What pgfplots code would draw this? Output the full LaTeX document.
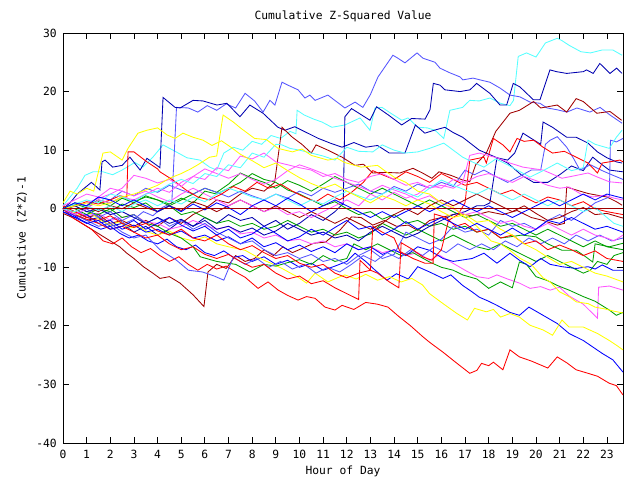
\documentclass[border=0pt]{standalone}
\usepackage{fontspec}
\setmainfont{DejaVu Sans Mono}
\usepackage{pgfplots}
\pgfplotsset{compat=1.18}
\definecolor{cred}{HTML}{FF0000}
\definecolor{cgreen}{HTML}{00A000}
\definecolor{cblue}{HTML}{0000FF}
\definecolor{cdblue}{HTML}{0000B0}
\definecolor{clblue}{HTML}{5555FF}
\definecolor{cmag}{HTML}{FF55FF}
\definecolor{ccyan}{HTML}{55FFFF}
\definecolor{cyel}{HTML}{FFFF00}
\definecolor{cdred}{HTML}{A00000}
\begin{document}
\begin{tikzpicture}
\useasboundingbox (-63pt,-37pt) rectangle (577pt,443pt);
\begin{axis}[
  at={(0,0)}, anchor=south west,
  scale only axis, width=560pt, height=410pt,
  xmin=0, xmax=23.68, ymin=-40, ymax=30,
  xtick={0,1,...,23}, ytick={-40,-30,...,30},
  tick align=inside, major tick length=6pt,
  axis line style={line width=0.8pt},
  every tick/.style={black, line width=0.8pt},
  /pgf/number format/assume math mode=true,
  font=\fontsize{11.3}{13}\selectfont,
  xticklabel style={inner sep=0pt, yshift=-7pt},
  yticklabel style={inner sep=0pt, xshift=-6pt},
  title={Cumulative Z-Squared Value},
  title style={at={(axis description cs:0.5,1.027)}, anchor=center, inner sep=0pt},
  xlabel={Hour of Day},
  xlabel style={at={(axis description cs:0.5,-0.07)}, anchor=center, inner sep=0pt},
  ylabel={Cumulative (Z*Z)-1},
  ylabel style={at={(axis description cs:-0.0732,0.5)}, anchor=center, inner sep=0pt},
  every axis plot/.append style={line width=0.85pt, mark=none},
]
% cyan top
\addplot[ccyan] coordinates {(0,0.5)(0.3,2)(0.6,3.5)(0.93,5.7)(1.27,6.3)(1.69,6.3)(2.1,5.8)(2.5,6.6)(3.04,7.9)(3.38,7.1)(3.8,8.8)(4.23,10.9)(4.65,10.0)(5.24,8.7)(5.79,8.3)(6.2,7.1)(6.5,6.6)(6.8,9.5)(7.2,10.5)(7.6,10)(8,11.5)(8.4,11)(8.8,12.5)(9.2,12)(9.6,13.2)(9.85,12.8)(9.9,16.8)(10.2,16.0)(10.6,15.3)(10.95,14.8)(11.37,13.9)(11.92,14.3)(12.56,15.5)(12.98,13.4)(13.19,17.2)(13.49,17.3)(13.9,16.2)(14.33,15.1)(14.59,15.5)(15.0,13.9)(15.4,13.8)(15.73,13.4)(16.1,12.0)(16.36,16.8)(16.9,17.3)(17.2,18.5)(17.6,18.4)(18.05,18.9)(18.5,18.0)(18.9,17.6)(19.05,18.5)(19.25,26.0)(19.6,26.6)(20.0,25.9)(20.4,28.3)(20.9,29.1)(21.1,28.7)(21.4,27.9)(21.9,26.8)(22.3,26.6)(22.8,27.1)(23.25,27.1)(23.64,26.2)};
% light blue top
\addplot[clblue] coordinates {(0,0)(0.3,-1)(0.7,-0.5)(1,-1.5)(1.4,-1)(1.8,-2.2)(2.2,-1.5)(2.6,-2.5)(3,-1.8)(3.4,-0.5)(3.8,-1.2)(4.2,0.2)(4.6,1.0)(4.8,17.3)(5.3,17.2)(5.7,16.5)(6.1,17.6)(6.5,16.8)(6.9,17.9)(7.3,17.2)(7.7,19.7)(8.1,18.4)(8.46,16.5)(8.75,18.5)(8.96,17.7)(9.26,21.6)(9.51,21.1)(9.94,20.3)(10.23,18.9)(10.44,19.4)(10.66,18.5)(11.2,19.4)(11.92,17.2)(12.35,18.2)(12.68,17.3)(13.0,19.5)(13.32,22.5)(13.95,26.2)(14.16,25.7)(14.46,24.9)(14.97,26.6)(15.22,25.7)(15.73,25.0)(15.94,24.0)(16.36,23.2)(16.79,22.5)(16.91,22.0)(17.34,22.3)(17.63,22.0)(18.05,21.6)(18.48,20.6)(18.9,19.4)(19.32,19.1)(19.75,18.2)(20.17,18.0)(20.47,17.2)(20.89,16.9)(21.31,16.5)(21.73,17.2)(22.28,16.5)(22.71,17.3)(23.13,16.0)(23.64,14.6)};
% dark blue (jump at 4)
\addplot[cdblue] coordinates {(0,0)(0.3,1)(0.6,2.5)(0.9,3.5)(1.2,4.5)(1.4,3.8)(1.56,3.2)(1.65,8.0)(1.78,8.3)(2.1,7.1)(2.5,7.4)(2.83,8.8)(3.26,6.6)(3.55,8.6)(3.9,7.6)(4.1,7.0)(4.23,19.0)(4.74,17.3)(4.95,17.2)(5.5,18.5)(5.92,18.4)(6.51,17.7)(6.93,18.0)(7.48,15.7)(7.9,17.7)(8.46,16.3)(9.09,13.9)(9.39,13.4)(9.8,14)(10.3,13)(10.8,12)(11.3,11.2)(11.8,10.5)(12.3,11.3)(12.8,10.5)(13.3,10.8)(13.8,9.5)(14.46,9.5)(14.9,14.3)(15.3,12.9)(15.7,13.4)(16.15,13.9)(16.5,13)(16.9,12.2)(17.6,10.0)(18.35,8.7)(18.8,7.8)(19.4,5.7)(19.9,4.5)(20.5,4.5)(21,5.8)(21.5,7.3)(22,6.5)(22.4,8.8)(22.8,7.5)(23.1,6.6)(23.68,6.3)};
% dark blue (jump at 12)
\addplot[cdblue] coordinates {(0,0)(0.5,-1)(1,-2)(1.5,-1.5)(2,-3)(2.5,-2.5)(3,-4)(3.5,-3)(4,-4.5)(4.5,-3.5)(5,-2)(5.5,-3)(6,-1.5)(6.5,-2.5)(7,-1)(7.5,-2)(8,-1.5)(8.5,-3)(9,-2)(9.5,-3.5)(10,-2.5)(10.5,-1)(11,-2)(11.5,-0.5)(11.85,0.9)(11.92,15.7)(12.2,17.1)(12.98,15.1)(13.26,17.4)(13.76,16.0)(14.32,14.3)(14.74,15.4)(15.31,15.3)(15.52,16.9)(15.66,21.4)(15.94,21.1)(16.15,20.3)(16.79,20.0)(17.21,20.3)(17.49,21.4)(18.05,19.7)(18.48,17.7)(18.76,17.7)(19.04,21.4)(19.32,20.8)(19.89,18.6)(20.17,18.6)(20.59,23.7)(20.87,23.4)(21.3,23.1)(22.0,23.4)(22.14,23.7)(22.42,23.1)(22.7,24.8)(23.13,23.1)(23.41,24.0)(23.64,23.1)};
% dark red rising
\addplot[cdred] coordinates {(0,0)(0.5,-0.5)(1,-1.5)(1.5,-1)(2,-2.5)(2.5,-2)(3,-3)(3.5,-2)(4,-3)(4.5,-1.5)(5,-2.5)(5.5,-1)(6,0)(6.5,1.5)(7,1)(7.5,2.5)(8,3.5)(8.5,3)(8.95,4.5)(9.26,13.9)(9.7,12.2)(10.1,11)(10.5,9.5)(10.7,10.9)(11.2,10)(11.8,8.8)(12.35,7.4)(12.7,7.6)(13.1,6.1)(13.6,6.2)(14.25,6.1)(14.8,6.9)(15.2,6.1)(15.6,5.2)(15.9,6.3)(16.4,5.7)(16.9,4.9)(17.2,4.6)(17.45,7.5)(17.9,9.5)(18.3,13.2)(18.9,16.3)(19.3,16.8)(19.9,18.3)(20.2,17.2)(20.9,17.7)(21.3,16.5)(21.7,18.8)(22.0,18.3)(22.57,16.3)(23.13,16.6)(23.62,15.1)};
% dark red deep early
\addplot[cdred] coordinates {(0,-0.8)(0.4,-1.5)(0.8,-2.5)(1.2,-3.5)(1.6,-4.5)(2,-5.5)(2.4,-6.5)(2.7,-7.6)(3.0,-8.5)(3.4,-9.9)(3.8,-11)(4.1,-11.9)(4.5,-11.6)(4.95,-12.7)(5.5,-14.7)(5.96,-16.7)(6.13,-10.8)(6.5,-9.5)(6.9,-10.2)(7.3,-8)(7.7,-9)(8.1,-8.5)(8.5,-7)(8.9,-8)(9.3,-6.5)(9.7,-7.5)(10.1,-6.8)(10.6,-5.9)(11.1,-5.7)(11.7,-3.7)(12.2,-1.4)(12.6,-1.5)(13.1,-2.8)(13.6,-2)(14.1,-3)(14.6,-2.8)(15,-3.7)(15.5,-2)(16,-1.5)(16.7,-0.8)(17.3,-1.2)(18,-0.5)(18.6,-1)(19.2,-0.3)(19.8,-1.5)(20.3,-2)(20.9,-2.8)(21.2,-2.5)(21.3,3.7)(21.7,3.2)(22.2,2.6)(22.6,2.3)(23.0,2.0)(23.4,1.2)(23.64,0.6)};
% red lowest
\addplot[cred] coordinates {(0,0)(0.4,-1.5)(0.8,-2.5)(1.2,-3.5)(1.7,-5.5)(2.1,-6)(2.5,-5)(2.9,-6.5)(3.3,-7.5)(3.7,-6.8)(4.1,-8)(4.5,-9)(4.9,-8.2)(5.3,-9.5)(5.7,-10.5)(6.1,-9.5)(6.5,-10.3)(6.9,-9.8)(7.3,-10.8)(7.7,-11.7)(8.25,-13.6)(8.67,-12.5)(9.1,-13.9)(9.5,-14.8)(9.94,-15.6)(10.3,-15)(10.66,-15.3)(11.08,-16.8)(11.5,-17.3)(11.8,-16.5)(12.3,-17.2)(12.8,-16)(13.3,-16.3)(13.74,-16.8)(14.2,-18.4)(14.7,-20)(15.2,-21.8)(15.5,-22.8)(16.07,-24.5)(16.66,-26.4)(17.2,-28.1)(17.5,-27.6)(17.7,-26.4)(18.0,-26.8)(18.2,-26.2)(18.6,-27.5)(18.9,-24.1)(19.3,-25.3)(19.8,-26)(20.5,-27.2)(20.9,-25.3)(21.3,-26.3)(21.7,-27.5)(22.2,-28.1)(22.6,-28.6)(23.1,-29.8)(23.4,-30.2)(23.68,-31.8)};
% blue low
\addplot[cblue] coordinates {(0,0)(0.4,-1)(0.8,-2)(1.2,-2.8)(1.6,-3.5)(2,-3)(2.4,-4.2)(2.8,-5)(3.2,-4.5)(3.6,-5.5)(4,-6)(4.4,-5.2)(4.8,-6.5)(5.2,-7)(5.6,-6.2)(6,-7.5)(6.4,-8)(6.8,-7.2)(7.2,-8.3)(7.6,-8)(8,-9)(8.5,-8.2)(9,-9.5)(9.5,-8.8)(10,-10)(10.5,-9.3)(11,-10.5)(11.5,-9.8)(12,-9)(12.35,-7.6)(12.8,-9)(13.2,-10.5)(13.7,-12.2)(14.1,-11.1)(14.6,-12)(15,-9.9)(15.5,-10.8)(16.07,-11.9)(16.4,-11.3)(16.9,-13.1)(17.3,-14.2)(17.6,-15.1)(18,-15.8)(18.35,-16.5)(18.9,-17.7)(19.3,-18.2)(19.7,-16.8)(20.3,-18.2)(20.9,-19.6)(21.4,-21.3)(22.0,-22.5)(22.4,-23.6)(22.8,-24.7)(23.25,-25.8)(23.68,-27.9)};
% yellow low
\addplot[cyel] coordinates {(0,0.5)(0.4,-0.5)(0.8,-1.2)(1.2,-0.8)(1.6,-2)(2,-2.8)(2.4,-2.2)(2.8,-3.3)(3.2,-3)(3.6,-4)(4,-4.5)(4.5,-3.8)(5,-5)(5.5,-5.5)(6,-4.8)(6.5,-6)(7,-6.5)(7.7,-7.1)(8.1,-8)(8.5,-8.8)(8.9,-9.5)(9.26,-10.2)(9.94,-11.7)(10.3,-12.7)(10.66,-11.0)(11.2,-12.5)(11.6,-11.8)(11.92,-11.3)(12.4,-12)(12.8,-11.2)(13.3,-12.2)(13.8,-11.6)(14.3,-12.5)(14.75,-11.9)(15.2,-13)(15.5,-14.5)(16.07,-16.2)(16.66,-17.9)(17.1,-19.0)(17.4,-17.0)(17.9,-17.6)(18.2,-17.2)(18.5,-18.5)(18.9,-17.9)(19.3,-18.5)(19.75,-19.9)(20.3,-20.7)(20.7,-21.6)(21.1,-19.0)(21.4,-20.2)(22.0,-20.2)(22.6,-21.3)(23.1,-22.5)(23.4,-23.3)(23.68,-24.1)};
% magenta low
\addplot[cmag] coordinates {(0,0)(0.5,-0.5)(1,-1.2)(1.5,-0.8)(2,-2)(2.5,-1.5)(3,-1)(3.5,-2.3)(4,-2.5)(4.5,-3.5)(5,-3)(5.5,-2)(6,-2.8)(6.5,-3.5)(7,-3)(7.5,-4.3)(8,-4)(8.5,-5)(9,-4.5)(9.5,-5.5)(10,-5.2)(10.5,-6)(11,-5.5)(11.5,-6.5)(12,-6)(12.5,-7)(13,-6.5)(13.5,-7.5)(14,-7)(14.5,-8)(15,-7.5)(15.5,-8.8)(15.9,-7.9)(16.4,-9.1)(17,-10.5)(17.5,-11.6)(18.0,-11.9)(18.35,-11.3)(18.8,-12)(19.3,-12.7)(19.75,-13.6)(20.2,-13.3)(20.6,-13.9)(21.0,-13.4)(21.4,-14.9)(22.0,-16.3)(22.6,-18.7)(22.65,-13.4)(23.1,-13.2)(23.68,-13.9)};
% green low
\addplot[cgreen] coordinates {(0,0)(0.5,0.5)(1,-0.5)(1.5,-1)(2,0)(2.5,-1.5)(3,-1)(3.5,-2.5)(4,-3)(4.5,-4.2)(5,-5)(5.5,-6.5)(5.8,-8.2)(6.5,-9)(7.3,-9.5)(7.9,-10.8)(8.5,-9.5)(9,-9.8)(9.5,-9.2)(10,-8.7)(10.5,-9.5)(11,-8)(11.5,-9)(12,-8.5)(12.3,-6)(12.8,-7)(13.3,-6)(13.8,-7)(14.3,-8)(14.8,-7.5)(15.5,-9.1)(16,-10)(16.5,-10.5)(16.9,-11.3)(17.5,-12)(18.0,-13.6)(18.5,-12.5)(19.0,-13.5)(19.3,-9.1)(19.6,-9.5)(20.0,-11.6)(20.5,-12.3)(20.9,-13.1)(21.4,-13.9)(22.0,-15.0)(22.5,-15.8)(23.1,-17.3)(23.4,-18.2)(23.68,-17.7)};
% green 2
\addplot[cgreen] coordinates {(0,0)(0.5,1)(1,0.5)(1.5,1.5)(2,1)(2.5,2)(3,1.2)(3.5,2)(4,1.5)(4.5,0.8)(5,1.8)(5.5,1)(6,3)(6.5,2.5)(7,3.5)(7.5,4.5)(8,6)(8.5,5)(9,4.5)(9.5,3.2)(10,2.5)(10.5,1.5)(11,0.5)(11.5,1.2)(12,0)(12.5,-1)(13,-0.5)(13.5,-1.8)(14,-1)(14.5,-2.5)(15,-2)(15.5,-3)(16,-2.5)(16.5,-3.5)(17,-3)(17.5,-4)(18,-3.5)(18.5,-5)(18.9,-4.8)(19.4,-4.5)(20,-4.8)(20.5,-6)(21.1,-7.1)(21.7,-7.1)(22.1,-8.2)(22.4,-9.1)(22.5,-6)(23.1,-6.5)(23.68,-5.9)};
% green 3
\addplot[cgreen] coordinates {(0,0.5)(0.5,0)(1,-1)(1.5,0)(2,-0.5)(2.5,0.8)(3,0.2)(3.5,1)(4,-0.5)(4.5,0.5)(5,-1)(5.5,-0.5)(6,-1.5)(6.5,-2.5)(7,-2)(7.5,-3)(8,-2.5)(8.5,-3.5)(9,-3)(9.5,-2)(10,-3)(10.5,-4)(11,-3.5)(11.5,-4.5)(12,-4)(12.5,-5)(13,-4.3)(13.5,-2.5)(14,-3.5)(14.5,-4.5)(15,-3.5)(15.5,-4.5)(16,-5.5)(16.5,-4.5)(17,-5.5)(17.5,-6.5)(18,-7)(18.5,-6)(19,-7)(19.5,-8)(20,-9)(20.5,-8)(21,-9)(21.5,-10)(22,-11)(22.3,-10.5)(22.6,-9)(23,-9.5)(23.3,-8)(23.68,-7.5)};
% green 4
\addplot[cgreen] coordinates {(0,0)(0.5,0.8)(1,0.2)(1.5,1.2)(2,0.5)(2.5,1.8)(3,1)(3.5,2.2)(4,1.5)(4.5,0.5)(5,1.5)(5.5,2.5)(6,3.5)(6.5,2.8)(7,4.2)(7.5,6.1)(8,5.2)(8.5,4.5)(9,3.5)(9.5,4.8)(10,4)(10.5,3)(11,4.2)(11.5,5.5)(12,4.5)(12.5,3.5)(13,2.5)(13.5,3.5)(14,2.5)(14.5,1.5)(15,0.5)(15.5,1.5)(16,0.5)(16.5,-0.5)(17,-1.5)(17.5,-1)(18,-2)(18.5,-3)(19,-2.5)(19.5,-3.5)(20,-4.5)(20.5,-3.5)(21,-4.5)(21.5,-5.5)(22,-6.5)(22.5,-5.5)(23,-6.5)(23.68,-7)};
% blue mid
\addplot[cblue] coordinates {(0,-0.5)(0.5,-1.5)(1,-1)(1.5,-2.5)(2,-2)(2.5,-3.5)(3,-2.8)(3.5,-4)(4,-3.5)(4.5,-4.5)(5,-3.8)(5.5,-5)(6,-4.5)(6.5,-5.5)(7,-4.8)(7.5,-6)(8,-5)(8.5,-6.5)(9,-5.8)(9.5,-7)(10,-6.2)(10.5,-7.3)(11,-6.5)(11.5,-7.5)(12,-6)(12.5,-7)(13,-6.5)(13.5,-7.8)(14,-7)(14.5,-8)(15,-6.5)(15.5,-7.1)(16.07,-8.5)(16.5,-9)(17.3,-8.5)(17.8,-7.6)(18.35,-9.3)(18.9,-7.6)(19.3,-8.8)(19.75,-9.9)(20.2,-8.5)(20.6,-9.5)(21.1,-9.9)(21.7,-10.2)(22.2,-9.9)(22.5,-10.3)(22.8,-9.6)(23.25,-10.5)(23.68,-10.5)};
% light blue jump at end
\addplot[clblue] coordinates {(0,0)(0.5,-1)(1,0)(1.5,-1.5)(2,-0.5)(2.5,-2)(3,-1)(3.5,-2.5)(4,-1.5)(4.5,-3)(5,-2)(5.5,-3.5)(6,-2.5)(6.5,-4)(7,-5)(7.5,-6)(8,-5.5)(8.5,-7)(9,-8)(9.5,-7.5)(10,-8.5)(10.5,-7.8)(11,-9)(11.5,-8.5)(12,-9.5)(12.5,-8)(13,-7)(13.5,-8.5)(14,-7.8)(14.5,-4)(15,-5)(15.5,-6)(16,-5.2)(16.5,-3)(17,-4)(17.5,-3.5)(18,-4.5)(18.5,-2)(19,-3)(19.5,-2.5)(20,-3.5)(20.5,-2)(21,-1)(21.5,-2)(22,-0.5)(22.5,1)(23.1,2)(23.15,11.7)(23.4,11.4)(23.68,12)};
% light blue mid
\addplot[clblue] coordinates {(0,0)(0.5,1)(1,0.5)(1.5,2)(2,1.5)(2.5,3)(3,2.2)(3.5,3.5)(4,2.8)(4.5,4)(5,3.2)(5.5,2.5)(6,3.5)(6.5,2.8)(7,2)(7.5,3)(8,2.2)(8.5,1.5)(9,2.5)(9.5,1.8)(10,3)(10.5,2.2)(11,3.5)(11.5,2.8)(12,3.5)(12.5,4.2)(13,3)(13.5,2.5)(14,3.8)(14.5,3)(15,4.2)(15.5,3.5)(16,4.5)(16.5,3.8)(17,6.6)(17.4,5.8)(17.8,6.6)(18.3,5.5)(18.8,4.5)(19.3,5.5)(19.8,6.6)(20.2,6.6)(20.4,11)(20.6,11.7)(20.9,12.3)(21.3,10.5)(21.6,8.5)(21.86,6.6)(22.3,7.5)(22.8,6.5)(23.2,5.8)(23.68,5.0)};
% light blue lower
\addplot[clblue] coordinates {(0,0)(0.5,-1)(1,-2)(1.5,-3)(2,-2.5)(2.5,-4)(3,-5)(3.5,-4.5)(4.1,-7)(4.8,-8.8)(5.3,-10.5)(5.9,-10.8)(6.4,-11.5)(6.8,-12.2)(7.2,-8.3)(7.7,-9.5)(8.2,-8.5)(8.7,-10)(9.2,-9)(9.7,-10.3)(10.2,-9.5)(10.7,-11)(11.2,-10)(11.7,-10.8)(12.2,-9.5)(12.7,-8)(13.2,-9)(13.7,-7.5)(14.2,-8.5)(14.7,-7)(15.2,-8)(15.7,-6.5)(16.2,-7.5)(16.7,-6)(17.2,-7)(17.7,-6)(18.2,-7)(18.7,-5.5)(19.2,-6.5)(19.7,-5)(20.2,-6)(20.7,-5)(21.2,-6)(21.7,-4.5)(22.2,-5.5)(22.7,-4.5)(23.2,-5.5)(23.68,-5)};
% dark blue jump at 18
\addplot[cdblue] coordinates {(0,0)(0.5,0.5)(1,-0.5)(1.5,0)(2,-1)(2.5,-0.5)(3,-1.5)(3.5,-2.5)(4,-1.5)(4.5,-2.5)(5,-1.8)(5.5,-3)(6,-2)(6.5,-3.5)(7,-3)(7.5,-4)(8,-3.3)(8.5,-4.5)(9,-3.8)(9.5,-2.5)(10,-3.5)(10.5,-4.5)(11,-4)(11.5,-5)(12,-4.5)(12.5,-5.5)(13,-4)(13.5,-3)(14,-4)(14.5,-5)(15,-4.2)(15.5,-3)(16,-2)(16.5,-1)(17,-0.5)(17.5,0.5)(17.8,0.5)(18.05,1.0)(18.35,8.7)(18.8,8.3)(19.1,9.5)(19.45,12.9)(19.8,12)(20.2,11)(20.3,14.8)(20.7,13.9)(21.3,12.2)(21.7,12.2)(22.2,11.2)(22.6,9.7)(23.0,8.7)(23.4,8.0)(23.64,7.8)};
% red ending 8
\addplot[cred] coordinates {(0,0)(0.5,-1)(1,-1.8)(1.5,-2.5)(2,-3.5)(2.5,-3)(3,-4)(3.5,-5)(4,-4.5)(4.5,-6)(5,-7)(5.5,-6.5)(6,-7.8)(6.5,-8.5)(7,-7.8)(7.5,-9)(8,-10)(8.5,-9.5)(9,-11)(9.5,-12)(10,-11.5)(10.5,-12.8)(11,-12.3)(11.5,-13.5)(12,-14.5)(12.5,-15.5)(12.56,-8.8)(13,-10.5)(13.3,-11)(13.8,-12.5)(14.2,-13.5)(14.3,-5.8)(14.8,-7)(15.2,-8.2)(15.6,-8.8)(16,-7)(16.3,-2)(16.7,-1)(17.0,1)(17.2,8.3)(17.8,8.8)(17.9,7.8)(18.2,12.0)(18.6,10.9)(18.9,9.7)(19.2,12.0)(19.5,11.5)(19.9,11.7)(20.3,10.5)(20.7,9.5)(21.2,9.8)(21.7,8.8)(22.2,7.8)(22.6,6.1)(22.8,7.8)(23.1,8.0)(23.55,8.3)(23.68,8)};
% red lower middle
\addplot[cred] coordinates {(0,0.5)(0.5,-0.5)(1,-1.5)(1.5,-2)(2,-1.2)(2.5,-2.5)(3,-3.2)(3.5,-2.5)(4,-3.8)(4.5,-4.5)(5,-3.5)(5.5,-5)(6,-5.5)(6.5,-4.5)(7,-6)(7.5,-7)(8,-6.3)(8.5,-7.5)(9,-8.5)(9.5,-8)(10,-9.3)(10.5,-10)(11,-9.5)(11.5,-11)(12,-11.8)(12.5,-11)(13,-10.5)(13.1,-3)(13.5,-4)(14,-5)(14.25,-7.3)(14.8,-8.5)(15.3,-9.3)(15.65,-9.3)(15.7,-0.9)(16.2,-1.5)(16.6,-3)(17,-2.5)(17.5,-4)(18,-3.5)(18.5,-5)(19,-4.5)(19.5,-6)(20,-5.5)(20.5,-7)(21,-6.2)(21.5,-7)(22,-8)(22.5,-7.2)(23,-8.5)(23.68,-9)};
% red upper early
\addplot[cred] coordinates {(0,0)(0.5,0.5)(1,1.2)(1.5,0.8)(2,1.5)(2.4,2.2)(2.7,2)(2.75,9.7)(3.0,9.7)(3.55,8.0)(4.0,6.8)(4.1,6.3)(4.65,4.9)(5.2,3.2)(5.7,2)(6.2,1.5)(6.7,2.5)(7.2,3.8)(7.7,3)(8.2,4.5)(8.7,3.5)(9.2,4.2)(9.7,3)(10.2,2)(10.7,1.2)(11.2,2.5)(11.7,1.5)(12.2,2.8)(12.7,4.5)(13.1,6.5)(13.5,5.8)(14,5)(14.5,6.3)(15,5.5)(15.5,4.5)(16,6)(16.5,5)(17,4)(17.5,4.5)(18,3.5)(18.5,2.5)(19,3.2)(19.5,2)(20,1)(20.5,2)(21,1.5)(21.5,0.5)(22,1.2)(22.5,0)(23,-0.5)(23.68,-1)};
% dark red near zero
\addplot[cdred] coordinates {(0,0)(0.5,-0.5)(1,0.3)(1.5,-0.5)(2,0.5)(2.5,0)(3,1)(3.5,0.2)(4,-0.5)(4.5,0.5)(5,-0.3)(5.5,1.2)(6,0.5)(6.5,-0.5)(7,0.5)(7.5,1.5)(8,0.5)(8.5,-0.5)(9,0.5)(9.5,-0.5)(10,-1.5)(10.5,-0.5)(11,-1.5)(11.5,-2.5)(12,-1.5)(12.5,-2.5)(13,-3.5)(13.5,-2.5)(14,-1)(14.5,0)(15,-1)(15.5,0.5)(16,1.5)(16.5,0.5)(17,1.5)(17.5,2.5)(18,1.5)(18.5,0.5)(19,-0.5)(19.5,0.5)(20,-0.8)(20.5,-2)(21,-1.5)(21.5,-0.5)(22,0.2)(22.5,-1)(23,-0.8)(23.68,-1.6)};
% magenta 1
\addplot[cmag] coordinates {(0,0)(1,1)(2,2.5)(2.5,3.5)(3,5.7)(3.5,5.2)(4,4.4)(4.5,5)(5,3.8)(5.5,5.5)(6,5)(6.5,7)(7,6.5)(7.5,9)(8,8.5)(8.5,9.5)(9,8)(9.5,7.5)(10,7)(10.5,6.6)(11,5.5)(11.5,6)(12,5)(12.5,4.5)(13,5.5)(13.5,6)(14,5)(14.5,4)(15,4.5)(15.5,3.5)(16,4)(16.5,3.5)(16.9,4.4)(17.2,9.1)(17.6,9.5)(18.35,8.7)(18.9,7.8)(19.45,7.1)(20.3,6.6)(21.1,5.2)(21.6,5.6)(22.2,6.1)(22.6,5.4)(23.1,4.6)(23.64,4.4)};
% magenta 2
\addplot[cmag] coordinates {(0,0)(0.5,-1)(1,0)(1.5,1.5)(2,1)(2.5,2)(3,1.5)(3.5,2.5)(4,3.5)(4.5,2.8)(5,4.5)(5.5,5.5)(6,6.8)(6.5,6)(7,5.2)(7.5,6)(8,5)(8.5,4.2)(9,5)(9.5,6.5)(10,7.5)(10.5,6.8)(11,6)(11.5,5.2)(12,4.5)(12.5,3.8)(13,3)(13.5,4)(14,3.2)(14.5,2.5)(15,1.5)(15.5,2.2)(16,1)(16.5,0)(17,-1)(17.5,-0.5)(18,-1.5)(18.5,-2.5)(19,-2)(19.5,-3)(20,-3.5)(20.5,-2.5)(21,-3.5)(21.5,-4.5)(22,-3.5)(22.5,-4.5)(23,-5)(23.3,-5.5)(23.68,-4.5)};
% magenta 3
\addplot[cmag] coordinates {(0,0.5)(0.5,1.5)(1,2.5)(1.5,2)(2,3.5)(2.5,3)(3,2.2)(3.5,3)(4,2)(4.5,1.2)(5,2.5)(5.5,3.5)(6,2.5)(6.5,1.5)(7,0.5)(7.5,1.5)(8,0.5)(8.5,-0.5)(9,0.2)(9.5,-1)(10,-0.5)(10.5,-1.5)(11,-0.5)(11.5,0.5)(12,1.5)(12.5,0.5)(13,2.5)(13.5,1.5)(14,2.8)(14.5,1.8)(15,2.5)(15.5,4)(16,3.5)(16.5,5)(17,4.5)(17.5,5.5)(18,6)(18.5,5.2)(19,4.5)(19.5,5.5)(20,4.8)(20.5,4)(21,3.5)(21.4,3.7)(21.9,2.5)(22.4,2)(22.9,2.3)(23.3,1.8)(23.68,1.5)};
% cyan 3
\addplot[ccyan] coordinates {(0,0)(0.5,0.8)(1,1.5)(1.5,1)(2,2.5)(2.5,2)(3,1.2)(3.5,2.5)(4,3)(4.5,4.2)(5,5)(5.5,4.3)(6,6)(6.5,5.5)(7,7.5)(7.5,7)(8,9.5)(8.5,8.8)(9,11)(9.26,10.9)(9.6,10.3)(10,10)(10.5,9.5)(11,9)(11.5,8.3)(12,10.5)(12.5,9.8)(13.1,9.7)(13.5,10.9)(14,10)(14.46,9.5)(15,9.7)(15.5,10.3)(16.1,11.2)(16.5,10)(16.9,8.8)(17.3,8)(17.8,7.1)(18.3,8.5)(18.8,7.5)(19.2,6.6)(19.75,5.4)(20.3,6.5)(20.9,7.8)(21.5,6.5)(22.0,7)(22.2,11.7)(22.5,11)(23.1,10.3)(23.4,12.2)(23.64,13.4)};
% cyan 4
\addplot[ccyan] coordinates {(0,0)(0.5,-0.5)(1,0.5)(1.5,-0.3)(2,0.5)(2.5,-0.5)(3,0.8)(3.5,1.5)(4,0.5)(4.5,1.5)(5,0.8)(5.5,2)(6,1.2)(6.5,2.5)(7,3.5)(7.5,2.8)(8,2)(8.5,1.5)(9,2.5)(9.5,1.5)(10,0.5)(10.5,1.5)(11,0.8)(11.5,2)(12,3)(12.5,2.2)(13,1.5)(13.5,2.5)(14,3.5)(14.5,2.8)(15,2)(15.5,3.5)(16,4.9)(16.5,4)(17,3.2)(17.5,2.5)(18,3.5)(18.5,2.5)(19,1.5)(19.5,2.5)(20,1.5)(20.5,0.5)(21,1.5)(21.5,0.5)(22,-0.5)(22.5,0.2)(23,-1.5)(23.3,-2.5)(23.68,-3)};
% yellow 2
\addplot[cyel] coordinates {(0,0)(0.5,0.5)(1,1)(1.5,0.5)(2,1)(2.5,2)(3,2.5)(3.5,3.2)(4,4)(4.5,5.2)(5,6)(5.4,6.8)(5.7,7.5)(6.2,8.8)(6.5,9)(6.77,16.0)(7.2,14.8)(7.5,13.8)(7.8,12.9)(8.1,12.0)(8.6,11.8)(9.1,10.3)(9.7,9.7)(10.1,10.2)(10.5,9.1)(11.2,8.3)(11.6,8.6)(11.9,7.9)(12.6,7.1)(13.3,7.4)(13.6,6.5)(14.0,5.4)(14.5,4.5)(15,3)(15.5,2.5)(16,1)(16.5,0.2)(17,-1.5)(17.5,-3)(18.1,-5.5)(18.5,-6)(18.9,-7.1)(19.3,-8.4)(19.8,-9.5)(20.3,-11.8)(20.6,-12.5)(21.0,-14.2)(21.4,-15)(21.7,-15.9)(22.2,-16.2)(22.5,-16.8)(22.9,-17.1)(23.3,-17.5)(23.68,-17.8)};
% yellow 1
\addplot[cyel] coordinates {(0,1)(0.3,3)(0.6,2.5)(1,3.5)(1.3,3)(1.69,9.5)(2,9.7)(2.5,8.3)(2.75,10.3)(3.17,12.9)(3.55,13.4)(4,13.8)(4.4,12.6)(4.74,12.0)(5.07,12.9)(5.5,12.2)(5.92,11.7)(6.3,10.8)(6.7,11.6)(7.1,10.5)(7.5,9.3)(8,8.2)(8.5,7)(9,7.8)(9.5,6.5)(10,5.3)(10.5,4.3)(11,3.5)(11.5,4.2)(12,3)(12.5,2)(13,1)(13.5,2.2)(14,1.5)(14.5,0.5)(15,1.5)(15.5,0.8)(16,-0.5)(16.5,-1.5)(17,-1)(17.5,-2.3)(18,-2)(18.5,-3.5)(19,-4.5)(19.5,-6)(20,-7)(20.5,-8.3)(21,-9.5)(21.5,-9)(22,-10)(22.5,-11)(23,-11.5)(23.68,-12.5)};
% blue 3
\addplot[cblue] coordinates {(0,-0.5)(0.5,-1.5)(1,-2.5)(1.5,-2)(2,-3.5)(2.5,-3)(3,-2)(3.5,-3.5)(4,-2.5)(4.5,-1.5)(5,-2.8)(5.5,-3.8)(6,-3)(6.5,-4.5)(7,-3.5)(7.5,-5)(8,-4.3)(8.5,-3)(9,-4.2)(9.5,-5.5)(10,-4.8)(10.5,-3.5)(11,-4.5)(11.5,-3.2)(12,-2)(12.5,-3.5)(13,-3)(13.5,-4.5)(14,-3.5)(14.5,-2.2)(15,-3.5)(15.5,-2.5)(16,-1.5)(16.5,-2.5)(17,-3.5)(17.5,-2.5)(18,-3.5)(18.5,-4.5)(19,-3.3)(19.5,-4.5)(20,-3.5)(20.5,-2)(21,-2.5)(21.5,-1.5)(22,-2.5)(22.5,-3.5)(23,-3)(23.68,-4)};
% blue 4
\addplot[cblue] coordinates {(0,0)(0.5,1)(1,0.5)(1.5,2)(2,1.5)(2.5,0.5)(3,1.5)(3.5,0.5)(4,-0.5)(4.5,0.5)(5,-0.5)(5.5,0.8)(6,-0.2)(6.5,1)(7,0.2)(7.5,-1)(8,0.5)(8.5,1.5)(9,0.5)(9.5,1.8)(10,0.8)(10.5,-0.5)(11,0.5)(11.5,1.5)(12,0.5)(12.5,-0.5)(13,-1.5)(13.5,-0.5)(14,-1.5)(14.5,-0.5)(15,0.5)(15.5,-0.5)(16,0.5)(16.5,1.5)(17,0.5)(17.5,-0.5)(18,0.5)(18.5,-0.5)(19,-1.5)(19.5,-0.5)(20,0.5)(20.5,1.5)(21,0.5)(21.5,1.5)(22,2.5)(22.5,1.5)(23,2.5)(23.68,1.8)};
% zero line
\addplot[cdred] coordinates {(0,0)(23.68,0)};
\end{axis}
\end{tikzpicture}
\end{document}
